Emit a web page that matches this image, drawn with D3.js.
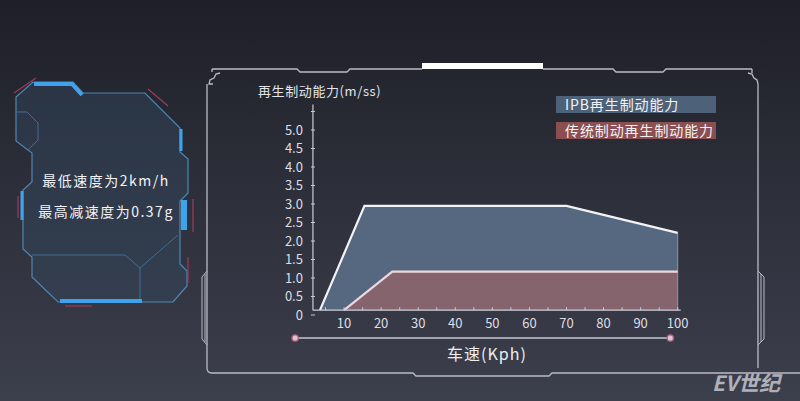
<!DOCTYPE html>
<html><head><meta charset="utf-8">
<script src="https://cdn.jsdelivr.net/npm/d3@7"></script>
<style>
html,body{margin:0;padding:0;background:#2a2c35;}
svg{display:block;font-family:"Noto Sans CJK SC","Noto Sans",sans-serif;}
</style></head>
<body>
<svg id="c" width="800" height="401"></svg>
<script>
// ---- data ----
const ipbSeries = [[3.5, 0.13], [15.5, 2.95], [70, 2.95], [100, 2.22]];
const tradSeries = [[10, 0.13], [23, 1.17], [100, 1.17]];
const baseValue = 0.13;      // value at which the x axis line sits
const xAxisStart = 1.6;      // value at which the y axis line sits
const xTickValues = d3.range(5, 101, 5);
const xLabelValues = [10, 20, 30, 40, 50, 60, 70, 80, 90, 100];
const yTickValues = [0, 0.5, 1, 1.5, 2, 2.5, 3, 3.5, 4, 4.5, 5, 5.5];
const yLabelValues = [0, 0.5, 1, 1.5, 2, 2.5, 3, 3.5, 4, 4.5, 5];
const legendLabels = ["IPB再生制动能力", "传统制动再生制动能力"];
const yTitle = "再生制动能力(m/ss)";
const xTitle = "车速(Kph)";
const infoLines = ["最低速度为2km/h", "最高减速度为0.37g"];
const watermark = "EV世纪";

const svg = d3.select("#c");
const defs = svg.append("defs");
const bg = defs.append("linearGradient").attr("id","bg").attr("x1",0).attr("y1",0).attr("x2",0).attr("y2",1);
bg.append("stop").attr("offset","0").attr("stop-color","#1e1f28");
bg.append("stop").attr("offset","0.45").attr("stop-color","#2c2f39");
bg.append("stop").attr("offset","1").attr("stop-color","#3c3f4c");
svg.append("rect").attr("width",800).attr("height",401).attr("fill","url(#bg)");

// ---- big frame decoration ----
const frame = svg.append("g").attr("fill","none").attr("stroke","#b9bcc6").attr("stroke-width",1.3);
frame.append("path").attr("d","M212,69 L297,69 L300,72 L347,72 L350,69 L422,69 M543,69 L613,69 L616,72 L663,72 L666,69 L752,69");
frame.append("rect").attr("x",422).attr("y",63).attr("width",121).attr("height",6).attr("fill","#ffffff").attr("stroke","none");
frame.append("path").attr("d","M212,69 L212,72 M220,73 L216,74 L214,78 L210,80 L209,84 L213,84 M207,84 L207,368 Q207,373 212,373 L413,373 L416,376 L549,376 L552,373 L800,373");
frame.append("path").attr("d","M752,69 L752,73 M748,73 L752,74 L754,78 L757,80 L758,84 M758,84 L758,368");
frame.append("path").attr("d","M207,271 L202,277 L202,339 L207,345 M205,274 L205,342").attr("stroke-width",1);
frame.append("path").attr("d","M758,271 L764,277 L764,339 L758,345 M761,274 L761,342").attr("stroke-width",1);

// ---- left info panel ----
const panel = svg.append("g");
const outer = [[16,97],[33,82],[73,82],[83,93],[145,93],[180,128],[180,152],[188,159],[188,193],[180,201],[180,264],[187,271],[187,286],[173,302],[58,302],[32,277],[32,257],[23,249],[23,190],[32,182],[32,153],[16,141]];
panel.append("path").attr("d", d3.line()(outer) + "Z").attr("fill","rgba(52,72,96,0.45)").attr("stroke","#4f86b3").attr("stroke-width",1.2);
const inner = panel.append("g").attr("fill","none").attr("stroke","#3f6f98").attr("stroke-width",1);
inner.append("path").attr("d","M16,112 L27,112 L38,123 L38,140 L28,150");
inner.append("path").attr("d","M32,255 L125,255 L140,268 L178,235 M140,268 L140,302");
const acc = panel.append("g").attr("fill","none").attr("stroke","#3fa2ea").attr("stroke-linecap","butt");
acc.append("path").attr("d","M34,84 L72,84 L82,95").attr("stroke-width",4);
acc.append("path").attr("d","M181,129 L181,151").attr("stroke-width",3);
acc.append("path").attr("d","M184,200 L184,230").attr("stroke-width",6);
acc.append("path").attr("d","M22,191 L22,220").attr("stroke-width",3);
acc.append("path").attr("d","M60,301 L142,301").attr("stroke-width",4);
const pink = panel.append("g").attr("fill","none").attr("stroke","#a13a5c").attr("stroke-width",1.2);
pink.append("path").attr("d","M14,93 L36,78");
pink.append("path").attr("d","M148,89 L168,106");
pink.append("path").attr("d","M193,199 L193,232");
pink.append("path").attr("d","M188,257 L188,283");
pink.append("path").attr("d","M18,196 L18,218");
pink.append("path").attr("d","M65,306 L92,306");
panel.selectAll("text.info").data(infoLines).join("text").attr("class","info")
  .attr("x",106).attr("y",(d,i)=>186+i*31).attr("text-anchor","middle")
  .attr("fill","#f2f4f7").attr("font-size",14).attr("letter-spacing",1.5).text(d=>d);

// ---- scales ----
const x = d3.scaleLinear().domain([0,100]).range([307,677.7]);
const y = d3.scaleLinear().domain([0,5]).range([315,130]);
const baseY = y(baseValue);

// areas
const area = d3.area().x(d=>x(d[0])).y0(baseY).y1(d=>y(d[1]));
const line = d3.line().x(d=>x(d[0])).y(d=>y(d[1]));
svg.append("path").attr("d", area(ipbSeries)).attr("fill","#56687f");
svg.append("path").attr("d", area(tradSeries)).attr("fill","#85646e");
const last = ipbSeries[ipbSeries.length-1];
svg.append("line").attr("x1",x(last[0])).attr("x2",x(last[0])).attr("y1",y(last[1])).attr("y2",baseY).attr("stroke","#8a97a8").attr("stroke-width",1);
svg.append("path").attr("d", line(ipbSeries)).attr("fill","none").attr("stroke","#f2f3f6").attr("stroke-width",2.2);
svg.append("path").attr("d", line(tradSeries)).attr("fill","none").attr("stroke","#ecd8df").attr("stroke-width",2.2);

// axes
const axisColor = "#c9ccd3";
const gx = svg.append("g").attr("transform",`translate(0,${baseY})`);
gx.append("line").attr("x1",x(xAxisStart)).attr("x2",x(100)+3).attr("stroke",axisColor).attr("stroke-width",1.2);
gx.selectAll("line.t").data(xTickValues).join("line").attr("class","t")
  .attr("x1",d=>x(d)).attr("x2",d=>x(d)).attr("y1",0).attr("y2",-3).attr("stroke",axisColor);
gx.selectAll("text").data(xLabelValues).join("text")
  .attr("x",d=>x(d)).attr("y",18).attr("text-anchor","middle").attr("fill","#dcdfe4").attr("font-size",13).text(d=>d);

const ax0 = x(xAxisStart);
const gy = svg.append("g");
gy.append("line").attr("x1",ax0).attr("x2",ax0).attr("y1",baseY).attr("y2",y(5.5)-7).attr("stroke",axisColor).attr("stroke-width",1.2);
gy.selectAll("line.t").data(yTickValues).join("line").attr("class","t")
  .attr("x1",ax0-2).attr("x2",ax0+2).attr("y1",d=>y(d)).attr("y2",d=>y(d)).attr("stroke",axisColor);
gy.selectAll("text").data(yLabelValues).join("text")
  .attr("x",ax0-10).attr("y",d=>y(d)+4.5).attr("text-anchor","end").attr("fill","#dcdfe4").attr("font-size",13)
  .text(d=>d===0?"0":d3.format(".1f")(d));
svg.append("text").attr("x",258).attr("y",96).attr("fill","#e3e5ea").attr("font-size",13).attr("letter-spacing",0.6).text(yTitle);

// legend
const legColors = ["#4d6279","#8b4f52"];
const leg = svg.selectAll("g.leg").data(legendLabels).join("g").attr("class","leg")
  .attr("transform",(d,i)=>`translate(556,${96+i*26})`);
leg.append("rect").attr("width",160).attr("height",17).attr("fill",(d,i)=>legColors[i]);
leg.append("text").attr("x",9).attr("y",13.5).attr("fill","#f2f2f4").attr("font-size",14).attr("letter-spacing",0.9).text(d=>d);

// bottom axis title line
const by = 338;
svg.append("line").attr("x1",x(-3.2)).attr("x2",x(98)).attr("y1",by).attr("y2",by).attr("stroke","#c7c9d0").attr("stroke-width",1.5);
svg.selectAll("circle.e").data([-3.2, 98]).join("circle").attr("class","e")
  .attr("cx",d=>x(d)).attr("cy",by).attr("r",3.2).attr("fill","#d9c7cf").attr("stroke","#b4587a").attr("stroke-width",1.3);
svg.append("text").attr("x",487).attr("y",360).attr("text-anchor","middle").attr("fill","#eceef2").attr("font-size",16).attr("letter-spacing",1).text(xTitle);

// watermark
svg.append("text").attr("x",712).attr("y",391).attr("fill","#aeb1ba").attr("font-size",21).attr("font-weight","bold").attr("font-style","italic").text(watermark);
</script>
</body></html>
